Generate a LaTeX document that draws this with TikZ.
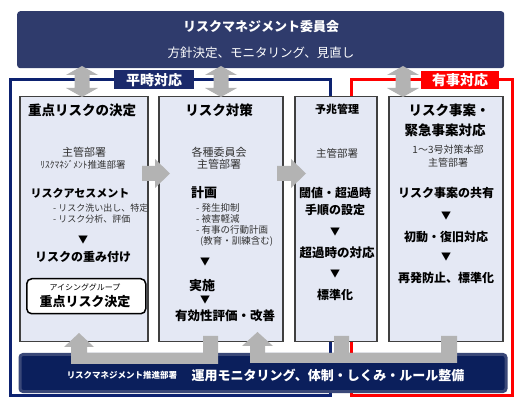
\documentclass[tikz,border=0pt]{standalone}
\usepackage{fontspec}
\setmainfont{Noto Sans CJK JP}
\definecolor{topnavy}{HTML}{2F3B6C}
\definecolor{frameblue}{HTML}{0D2270}
\definecolor{labelnavy}{HTML}{1B2A6B}
\definecolor{boxfill}{HTML}{E4E8F4}
\definecolor{boxline}{HTML}{404040}
\definecolor{arrgray}{HTML}{B3B3B3}
\definecolor{barfill}{HTML}{0B1F5C}
\definecolor{barline}{HTML}{3A4878}
\definecolor{subtxt}{HTML}{333333}
\newcommand{\fsz}[1]{\fontsize{#1}{#1}\selectfont}
\begin{document}
\begin{tikzpicture}[x=1pt,y=-1pt,
  stagebox/.style={draw=boxline,line width=1.5pt,fill=boxfill,anchor=north west,inner sep=0pt},
  garrow/.style={fill=arrgray,draw=none},
  t/.style={inner sep=0pt,text=black},
  ts/.style={inner sep=0pt,text=subtxt},
  w/.style={inner sep=0pt,text=white},
  tri/.style={inner sep=0pt,text=black,font=\fsz{10}}]
\useasboundingbox[fill=white] (0,0) rectangle (528,406);
% top committee box
\node[fill=topnavy,rounded corners=3pt,minimum width=487pt,minimum height=57pt,anchor=north west,inner sep=0pt] (top) at (17,11) {};
\node[w,font=\fsz{13}\bfseries] (toptitle) at (261,27) {リスクマネジメント委員会};
\node[w,font=\fsz{12.5}] (topsub) at (261,53) {方針決定、モニタリング、見直し};
% frames
\draw[frameblue,line width=3pt] (10.5,80) rectangle (330,395);
\draw[red,line width=3pt] (351,80) rectangle (512,395);
\node[fill=labelnavy,minimum width=80pt,minimum height=19pt,inner sep=0pt,text=white,font=\fsz{14}\bfseries] (lbl1) at (154,80) {平時対応};
\node[fill=red,minimum width=78pt,minimum height=18pt,inner sep=0pt,text=white,font=\fsz{14}\bfseries] (lbl2) at (460,80) {有事対応};
% stage boxes
\node[stagebox,minimum width=128pt,minimum height=245pt] (b1) at (19,96) {};
\node[stagebox,minimum width=124pt,minimum height=245pt] (b2) at (158,96) {};
\node[stagebox,minimum width=82pt,minimum height=245pt] (b3) at (294,96) {};
\node[stagebox,minimum width=114pt,minimum height=245pt] (b4) at (388,96) {};
% bottom bar
\node[fill=barfill,draw=barline,line width=3pt,rounded corners=3pt,minimum width=486pt,minimum height=37pt,anchor=north west,inner sep=0pt] (bar) at (18.5,353) {};
\node[w,font=\fsz{8.5}\bfseries] (barsub) at (122,375) {リスクマネジメント推進部署};
\node[w,font=\fsz{13}\bfseries] (bartitle) at (328,375) {運用モニタリング、体制・しくみ・ルール整備};
% double arrows top
\foreach \cx in {82,221,403}{
  \fill[arrgray] (\cx,66) -- (\cx+16,75) -- (\cx+7.5,75) -- (\cx+7.5,88) -- (\cx+16,88) -- (\cx,97) -- (\cx-16,88) -- (\cx-7.5,88) -- (\cx-7.5,75) -- (\cx-16,75) -- cycle;
}
% horizontal arrows
\fill[arrgray] (142,166) -- (155,166) -- (155,159) -- (170,173.5) -- (155,188) -- (155,181) -- (142,181) -- cycle;
\fill[arrgray] (277,166) -- (291,166) -- (291,159) -- (306,173.5) -- (291,188) -- (291,181) -- (277,181) -- cycle;
% bottom U arrows
\fill[arrgray] (71,347) -- (64,347) -- (79,333) -- (94,347) -- (87,347) -- (87,353) -- (203,353) -- (203,336) -- (218,336) -- (218,364) -- (71,364) -- cycle;
\fill[arrgray] (250,346) -- (242,346) -- (257.5,332) -- (273,346) -- (265,346) -- (265,353) -- (334,353) -- (334,336) -- (349,336) -- (349,353) -- (441,353) -- (441,336) -- (457,336) -- (457,363) -- (250,363) -- cycle;
% box 1
\node[t,font=\fsz{13.5}\bfseries] (b1t) at (82,110) {重点リスクの決定};
\node[ts,font=\fsz{11}] (b1a) at (84,152) {主管部署};
\node[ts,font=\fsz{9.5}] (b1b) at (83,165) {ﾘｽｸﾏﾈｼﾞﾒﾝﾄ推進部署};
\node[t,font=\fsz{11}\bfseries] (b1c) at (80,193) {リスクアセスメント};
\node[ts,font=\fsz{9},anchor=west] (b1d) at (53,208) {- リスク洗い出し、特定};
\node[ts,font=\fsz{9},anchor=west] (b1e) at (53,219) {- リスク分析、評価};
\node[tri] (b1v) at (83,240) {▼};
\node[t,font=\fsz{12}\bfseries] (b1f) at (83,257) {リスクの重み付け};
\node[draw=black,line width=1.5pt,fill=white,rounded corners=5pt,minimum width=119pt,minimum height=35pt,anchor=north west,inner sep=0pt] (ig) at (26,278) {};
\node[t,font=\fsz{8}] (igt) at (85,287) {アイシンググループ};
\node[t,font=\fsz{13}\bfseries] (igm) at (85,302) {重点リスク決定};
% box 2
\node[t,font=\fsz{13.5}\bfseries] (b2t) at (219,110) {リスク対策};
\node[ts,font=\fsz{11}] (b2a) at (219,152) {各種委員会};
\node[ts,font=\fsz{11}] (b2b) at (219,164) {主管部署};
\node[t,font=\fsz{13}\bfseries,anchor=west] (b2c) at (191,193) {計画};
\node[ts,font=\fsz{9.5},anchor=west] (b2d) at (196,208) {- 発生抑制};
\node[ts,font=\fsz{9.5},anchor=west] (b2e) at (196,219) {- 被害軽減};
\node[ts,font=\fsz{9.5},anchor=west] (b2f) at (196,230) {- 有事の行動計画};
\node[ts,font=\fsz{9.5},anchor=west] (b2g) at (200,241) {(教育・訓練含む)};
\node[tri] (b2v1) at (205,262) {▼};
\node[t,font=\fsz{13}\bfseries,anchor=west] (b2h) at (189,286) {実施};
\node[tri] (b2v2) at (205,300) {▼};
\node[t,font=\fsz{12.5}\bfseries] (b2i) at (225,316) {有効性評価・改善};
% box 3
\node[t,font=\fsz{11}\bfseries] (b3t) at (337,109) {予兆管理};
\node[ts,font=\fsz{10.5}] (b3a) at (337,153) {主管部署};
\node[t,font=\fsz{12}\bfseries] (b3b) at (335,193) {閾値・超過時};
\node[t,font=\fsz{12}\bfseries] (b3c) at (335,210) {手順の設定};
\node[tri] (b3v1) at (335,232) {▼};
\node[t,font=\fsz{12.5}\bfseries] (b3d) at (337,253) {超過時の対応};
\node[tri] (b3v2) at (335,274) {▼};
\node[t,font=\fsz{12}\bfseries] (b3e) at (335,295) {標準化};
% box 4
\node[t,font=\fsz{13.5}\bfseries] (b4t1) at (449,110) {リスク事案・};
\node[t,font=\fsz{13.5}\bfseries] (b4t2) at (445,130) {緊急事案対応};
\node[ts,font=\fsz{10}] (b4a) at (448,150) {1～3号対策本部};
\node[ts,font=\fsz{10}] (b4b) at (448,163) {主管部署};
\node[t,font=\fsz{12}\bfseries] (b4c) at (446,193) {リスク事案の共有};
\node[tri] (b4v1) at (446,216) {▼};
\node[t,font=\fsz{12}\bfseries] (b4d) at (446,237) {初動・復旧対応};
\node[tri] (b4v2) at (446,257) {▼};
\node[t,font=\fsz{12}\bfseries] (b4e) at (446,278) {再発防止、標準化};
\end{tikzpicture}
\end{document}
